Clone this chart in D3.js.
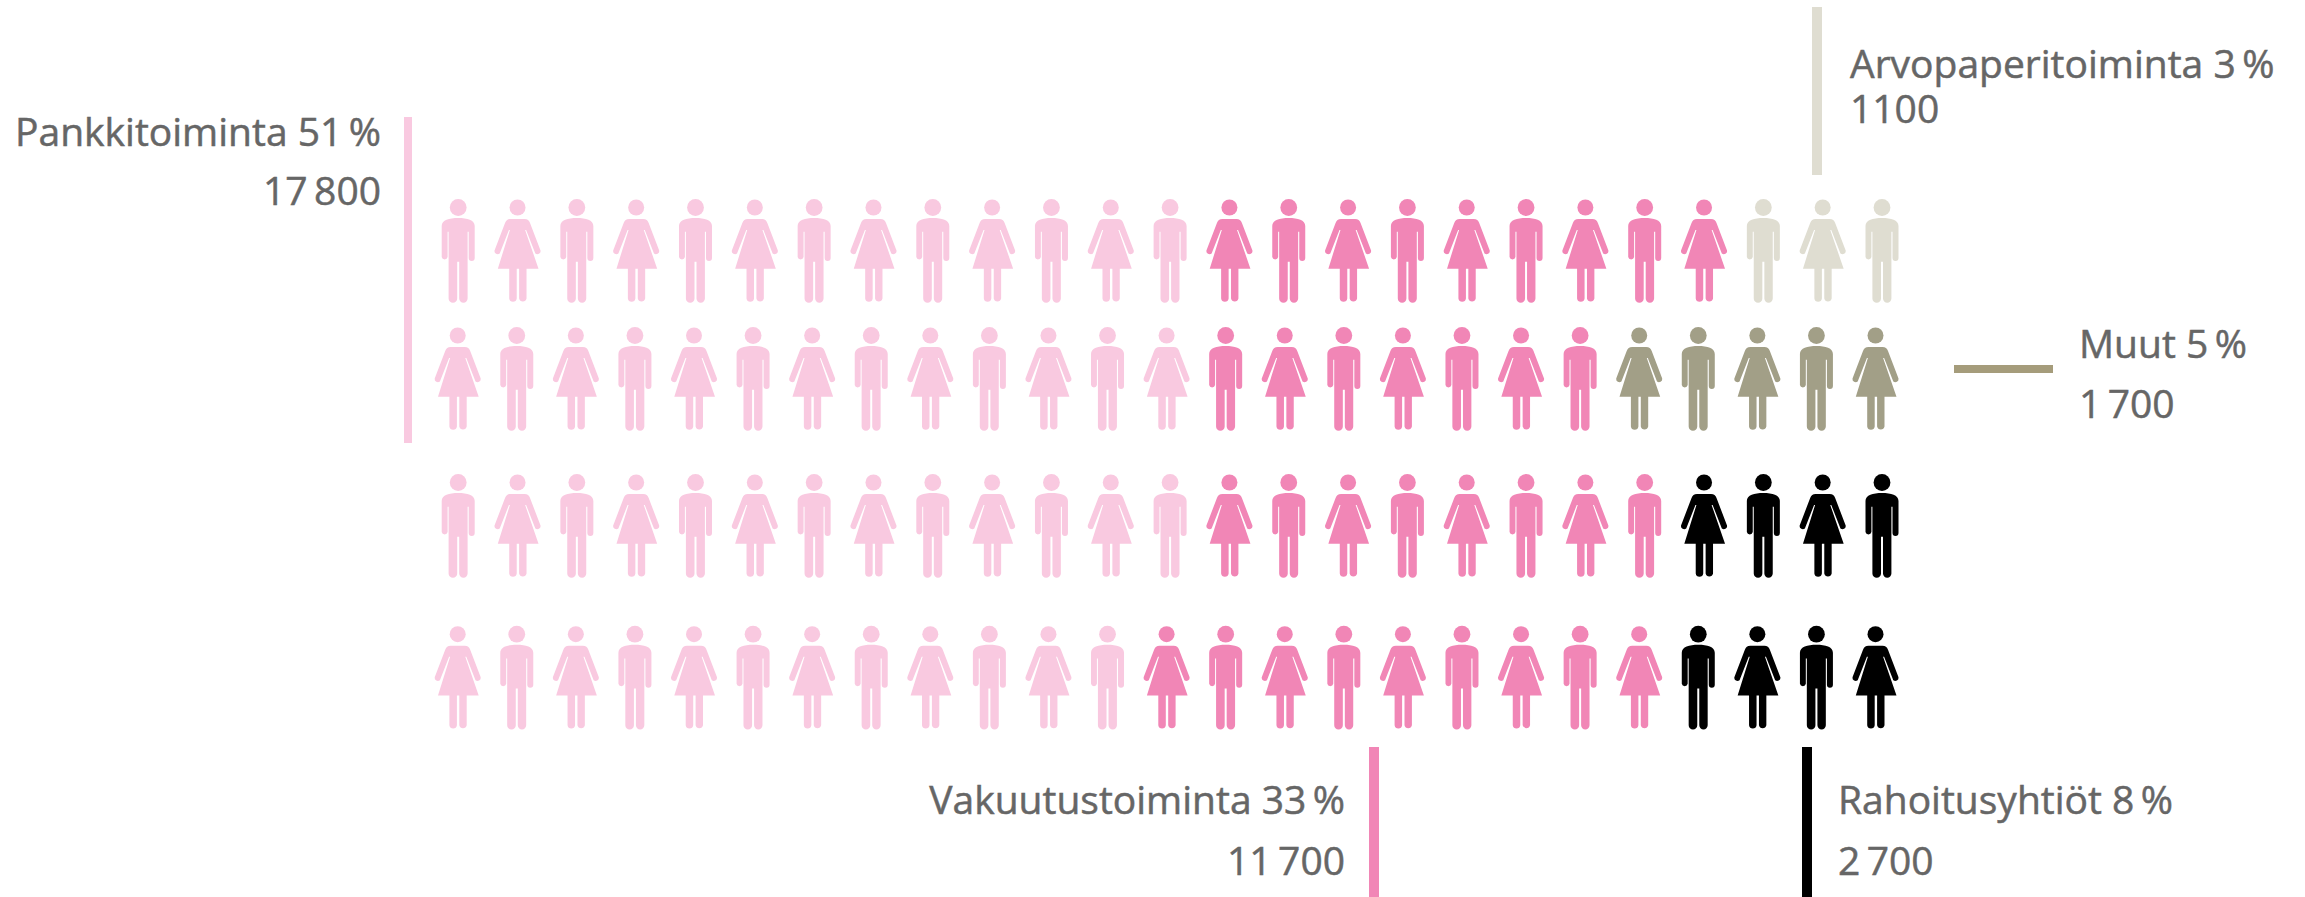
<!DOCTYPE html>
<html>
<head>
<meta charset="utf-8">
<script src="https://cdn.jsdelivr.net/npm/d3@7"></script>
<style>
  html, body { margin: 0; padding: 0; background: #fff; }
  svg { display: block; }
  text { font-family: "Open Sans", sans-serif; fill: #666; stroke: #666; stroke-width: 0.5px; font-size: 39px; }
</style>
</head>
<body>
<div id="chart"></div>
<script>
// one icon = one percent of staff, rows read left to right
const categories = ['Pankkitoiminta', 'Vakuutustoiminta', 'Arvopaperitoiminta', 'Muut', 'Rahoitusyhtiöt'];
const percents = [51, 33, 3, 5, 8];
const staff = ['17 800', '11 700', '1100', '1 700', '2 700'];
const rowCounts = [
  [13, 9, 3, 0, 0],
  [13, 7, 0, 5, 0],
  [13, 8, 0, 0, 4],
  [12, 9, 0, 0, 4]
];
const colors = ['#f9c9e0', '#f186b6', '#dfddd1', '#a29f87', '#000000'];
const barColors = ['#f9c9e0', '#f186b6', '#dfddd1', '#a59c7b', '#000000'];

const width = 2305, height = 897;
const svg = d3.select('#chart').append('svg').attr('width', width).attr('height', height);

const y = d3.scaleOrdinal().domain(d3.range(4)).range([199, 327, 474, 625.7]);
const xOdd = d3.scaleLinear().domain([0, 24]).range([458.2, 1882]);
const xEven = d3.scaleLinear().domain([0, 24]).range([457.7, 1875.5]);

const manPath = 'M-16.5 27C-16.5 21-9 19 0 19S16.5 21 16.5 27L16.5 59A3 3 0 0 1 10.5 59L10.5 32.7 9.4 32.7 9.4 99.5A4.2 4.2 0 0 1 1 99.5L1 62.7-1 62.7-1 99.5A4.2 4.2 0 0 1-9.6 99.5L-9.6 32.7-10.6 32.7-10.6 58A3 3 0 0 1-16.5 58Z';
const womanPath = 'M-7 20L7 20C10 20 11.5 21.5 12.5 24L23 51.5A3.2 3.2 0 0 1 17.8 54.5L8.6 31 7.6 31 21 69.7 9 69.7 9 99.5A3.8 3.8 0 0 1 1.6 99.5L1.6 69.7-0.8 69.7-0.8 99.5A3.8 3.8 0 0 1-8.3 99.5L-8.3 69.7-19.7 69.7-7.6 31-8.6 31-17.8 54.5A3.2 3.2 0 0 1-23 51.5L-12.5 24C-11.5 21.5-10 20-7 20Z';

const icons = [];
rowCounts.forEach((counts, row) => {
  const cats = counts.flatMap((n, c) => d3.range(n).map(() => c));
  cats.forEach((c, i) => icons.push({ row, i, c, woman: (row + i) % 2 === 1 }));
});

const g = svg.selectAll('g.icon').data(icons).enter().append('g')
  .attr('class', 'icon')
  .attr('transform', d => `translate(${(d.row % 2 ? xEven : xOdd)(d.i)},${y(d.row)})`)
  .attr('fill', d => colors[d.c]);
g.append('circle').attr('cx', 0).attr('cy', 8.5).attr('r', d => d.woman ? 8 : 8.4);
g.append('path').attr('d', d => d.woman ? womanPath : manPath);

// legend bars and labels
const bars = [
  [404, 117, 8, 326],
  [1369, 747, 10, 150],
  [1812, 7, 10, 168],
  [1954, 365, 99, 8],
  [1802, 747, 10, 150]
];
const labels = [
  { x: 381, y1: 146, y2: 205, anchor: 'end' },
  { x: 1345, y1: 814, y2: 875, anchor: 'end' },
  { x: 1850, y1: 78, y2: 123, anchor: 'start' },
  { x: 2079, y1: 358, y2: 418, anchor: 'start' },
  { x: 1838, y1: 814, y2: 875, anchor: 'start' }
];
categories.forEach((name, i) => {
  const [bx, by, bw, bh] = bars[i];
  svg.append('rect').attr('x', bx).attr('y', by).attr('width', bw).attr('height', bh).attr('fill', barColors[i]);
  const l = labels[i];
  svg.append('text').attr('x', l.x).attr('y', l.y1).attr('text-anchor', l.anchor)
    .text(`${name} ${percents[i]}\u2009%`);
  svg.append('text').attr('x', l.x).attr('y', l.y2).attr('text-anchor', l.anchor)
    .text(staff[i].replace(' ', '\u2009'));
});
</script>
</body>
</html>
